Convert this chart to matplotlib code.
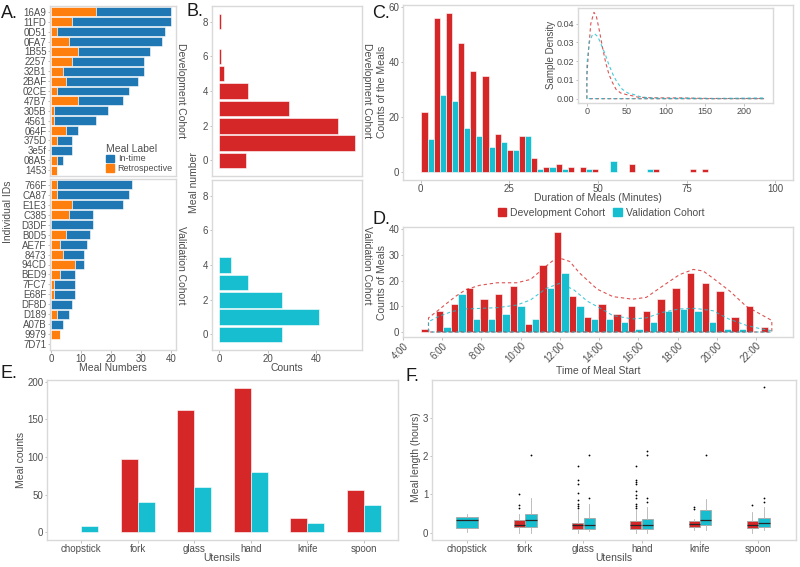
import matplotlib
matplotlib.use('Agg')
import matplotlib.pyplot as plt
from matplotlib.patches import Patch
import numpy as np

plt.rcParams['font.family'] = ['Liberation Sans', 'DejaVu Sans']

RED = '#d62728'
CYAN = '#17becf'
BLUE = '#1f77b4'
ORANGE = '#ff7f0e'
TXT = '#4d4d4d'
FRAME = '#d9d9d9'

# ---- A: meals per individual
dev_ids = ['16A9', '11FD', '0D51', '0FA7', '1B55', '2257', '32B1', '2BAF', '02CE',
           '47B7', '305B', '4561', '064F', '375D', '3e5f', '08A5', '1453']
dev_retro = [15, 7, 2, 6, 9, 7, 4, 5, 2, 9, 1, 1, 5, 2, 0, 2, 2]
dev_intime = [25, 33, 36, 31, 24, 24, 27, 24, 24, 15, 18, 14, 4, 5, 7, 2, 0]
val_ids = ['766F', 'CA87', 'E1E3', 'C385', 'D3DF', 'B0D5', 'AE7F', '8473', '94CD',
           'BED9', '7FC7', 'E68F', 'DF8D', 'D189', 'A07B', '9979', '7D71']
val_retro = [2, 2, 7, 6, 0, 5, 3, 4, 8, 3, 1, 1, 0, 2, 0, 3, 0]
val_intime = [25, 24, 17, 8, 14, 8, 9, 7, 3, 5, 7, 7, 7, 4, 4, 0, 0]

# ---- B: meal number per day
meal_num = [0, 1, 2, 3, 4, 5, 6, 7, 8]
dev_meal_counts = [11, 56, 49, 29, 12, 2, 1, 0, 1]
val_meal_counts = [26, 41, 26, 12, 5, 0, 0, 0, 0]

# ---- C: meal duration histogram (minutes)
dur_bin_start = 0.2
dur_bin_width = 3.44
dev_dur_counts = [22, 56, 58, 47, 37, 35, 14, 8, 13, 5, 2, 3, 2, 2, 1, 0, 0, 3, 0, 1, 0, 0, 1, 1]
val_dur_counts = [12, 28, 26, 16, 13, 9, 11, 8, 13, 1, 2, 1, 0, 1, 0, 4, 0, 0, 1, 0, 0, 0, 0, 0]
# inset density outlines
dev_dens_x = [0, 0, 2, 5, 9, 12, 16, 20, 24, 28, 32, 37, 43, 50, 58, 65, 80, 100, 120, 140, 160, 225, 225, 0]
dev_dens_y = [0, 0.012, 0.025, 0.040, 0.046, 0.044, 0.036, 0.027, 0.019, 0.013, 0.009, 0.005,
              0.003, 0.0022, 0.0015, 0.0008, 0.0005, 0.0004, 0.0004, 0.0002, 0.0001, 0.0001, 0, 0]
val_dens_x = [0, 0, 3, 7, 10, 14, 18, 23, 28, 33, 38, 45, 52, 60, 68, 80, 100, 130, 160, 225, 225, 0]
val_dens_y = [0, 0.018, 0.030, 0.034, 0.0345, 0.033, 0.029, 0.024, 0.018, 0.013, 0.009, 0.005,
              0.003, 0.0022, 0.001, 0.0004, 0.0002, 0.0003, 0.0001, 0.0004, 0, 0]

# ---- D: meal start time histogram (hours)
start_bin0 = 4.935
start_bin_width = 0.752
dev_start_counts = [1, 8, 11, 17, 13, 15, 18, 3, 26, 39, 14, 6, 11, 7, 10, 8, 13, 17, 23, 19, 16, 6, 10, 2]
val_start_counts = [0, 2, 15, 5, 5, 7, 10, 5, 17, 23, 10, 5, 5, 4, 1, 4, 8, 9, 8, 4, 1, 1, 0, 0]
dev_start_dens_h = [5.3, 5.3, 5.8, 6.2, 6.7, 7.2, 7.9, 8.8, 9.8, 10.5, 11.1, 11.6, 12.0, 12.5, 13.0,
                    13.9, 14.7, 15.7, 16.4, 17.25, 18.1, 18.8, 19.3, 19.8, 20.65, 21.5, 22.35, 22.8, 22.8, 5.3]
dev_start_dens_v = [0, 5.5, 8.5, 11, 14, 16.5, 18.2, 19.2, 19.2, 20.5, 24.4, 27.6, 28.8, 27.5, 23,
                    16.7, 13.8, 12.8, 13.5, 18, 22.4, 24.4, 23.8, 21, 16, 10, 6.4, 4.5, 0, 0]
val_start_dens_h = [5.3, 5.3, 5.8, 6.5, 7.2, 7.9, 8.8, 9.8, 10.5, 11.3, 12.0, 12.7, 13.4, 14.0, 14.7,
                    15.7, 16.4, 17.25, 18.1, 18.9, 19.8, 20.6, 21.5, 22.2, 22.8, 22.8, 5.3]
val_start_dens_v = [0, 4, 6, 8, 9, 9.2, 9.5, 10.5, 12.5, 17, 19, 16.5, 12, 9.5, 6.4,
                    5.1, 5.5, 7.7, 9, 9.2, 8.3, 5.1, 2.6, 1.3, 0.5, 0, 0]
hour_ticks = [4, 6, 8, 10, 12, 14, 16, 18, 20, 22]
hour_labels = ['4:00', '6:00', '8:00', '10:00', '12:00', '14:00', '16:00', '18:00', '20:00', '22:00']

# ---- E: utensil counts
utensils = ['chopstick', 'fork', 'glass', 'hand', 'knife', 'spoon']
dev_utensil = [0, 97, 163, 192, 19, 57]
val_utensil = [9, 40, 60, 80, 13, 37]

# ---- F: meal length boxes (hours): whislo, q1, med, q3, whishi
dev_box = [None,
           (0.0, 0.15, 0.21, 0.32, 0.50),
           (0.0, 0.10, 0.20, 0.25, 0.58),
           (0.0, 0.10, 0.21, 0.30, 0.58),
           (0.06, 0.15, 0.23, 0.30, 0.37),
           (0.0, 0.13, 0.21, 0.30, 0.54)]
dev_fliers = [[], [0.64, 0.71, 1.02],
              [0.64, 0.70, 0.76, 0.84, 1.03, 1.28, 1.37, 1.73],
              [0.64, 0.70, 0.76, 0.91, 0.97, 1.10, 1.26, 1.32, 1.38, 1.73],
              [0.61, 0.67], [0.72]]
val_box = [(0.03, 0.12, 0.32, 0.41, 0.50),
           (0.0, 0.15, 0.32, 0.48, 0.91),
           (0.05, 0.10, 0.21, 0.39, 0.76),
           (0.0, 0.10, 0.19, 0.35, 0.67),
           (0.06, 0.19, 0.32, 0.58, 0.89),
           (0.06, 0.15, 0.26, 0.38, 0.67)]
val_fliers = [[], [2.02], [0.90, 2.02], [0.80, 0.91, 2.02, 2.13], [2.02], [0.80, 0.90, 3.80]]

W, H = 800, 567
fig = plt.figure(figsize=(8, 5.67), dpi=100)


def add_ax(l, t, r, b):
    return fig.add_axes([l / W, 1 - b / H, (r - l) / W, (b - t) / H])


def ftxt(x, y, s, **kw):
    kw.setdefault('color', TXT)
    kw.setdefault('fontsize', 7.5)
    kw.setdefault('ha', 'center')
    kw.setdefault('va', 'center')
    fig.text(x / W, 1 - y / H, s, **kw)


def style(ax, size=7):
    for s in ax.spines.values():
        s.set_color(FRAME)
        s.set_linewidth(1.0)
    ax.tick_params(length=1.8, width=0.6, color='#b3b3b3', labelcolor=TXT, labelsize=size, pad=0.8)


bar_kw = dict(edgecolor='white', linewidth=0.4)

# A
a_top = add_ax(50, 6, 176, 176)
a_bot = add_ax(50, 179, 176, 350)
for ax, ids, retro, intime in [(a_top, dev_ids, dev_retro, dev_intime),
                               (a_bot, val_ids, val_retro, val_intime)]:
    y = np.arange(len(ids))
    ax.barh(y, retro, height=0.9, color=ORANGE, **bar_kw)
    ax.barh(y, intime, left=retro, height=0.9, color=BLUE, **bar_kw)
    ax.set_yticks(y, ids)
    ax.set_ylim(len(ids) - 0.4, -0.6)
    ax.set_xlim(-0.35, 41.7)
    ax.set_xticks([0, 10, 20, 30, 40])
    style(ax)
a_top.tick_params(axis='x', labelbottom=False, length=0)
a_top.legend([Patch(color=BLUE), Patch(color=ORANGE)], ['In-time', 'Retrospective'],
             title='Meal Label', loc='upper left', bbox_to_anchor=(101 / W, 1 - 139 / H),
             bbox_transform=fig.transFigure, frameon=False, fontsize=6.5, title_fontsize=7.5,
             handlelength=0.9, handleheight=0.9, labelspacing=0.1, borderpad=0,
             handletextpad=0.45, alignment='left', labelcolor=TXT)
a_top.get_legend().get_title().set_color(TXT)

# B
b_top = add_ax(212, 6, 362, 176)
b_bot = add_ax(212, 180, 362, 350)
for ax, counts, col in [(b_top, dev_meal_counts, RED), (b_bot, val_meal_counts, CYAN)]:
    ax.barh(meal_num, counts, height=0.9, color=col, **bar_kw)
    ax.set_ylim(-0.9, 8.9)
    ax.set_xlim(-2.8, 58.8)
    ax.set_yticks([0, 2, 4, 6, 8])
    ax.set_xticks([0, 20, 40])
    style(ax)
b_top.tick_params(axis='x', labelbottom=False, length=0)

# C
c = add_ax(403, 5, 793, 180)
edges = dur_bin_start + dur_bin_width * np.arange(len(dev_dur_counts))
c.bar(edges, dev_dur_counts, width=dur_bin_width / 2, align='edge', color=RED, **bar_kw)
c.bar(edges + dur_bin_width / 2, val_dur_counts, width=dur_bin_width / 2, align='edge', color=CYAN, **bar_kw)
c.set_xlim(-5, 105)
c.set_ylim(-2.9, 60.9)
c.set_xticks([0, 25, 50, 75, 100])
c.set_yticks([0, 20, 40, 60])
style(c)

ins = add_ax(578, 8, 773, 103)
ins.plot(dev_dens_x, dev_dens_y, color=RED, lw=0.8, ls=(0, (3, 2.5)), alpha=0.8)
ins.plot(val_dens_x, val_dens_y, color=CYAN, lw=0.8, ls=(0, (3, 2.5)), alpha=0.8)
ins.set_xlim(-11.25, 236.25)
ins.set_ylim(-0.0023, 0.0483)
ins.set_xticks([0, 50, 100, 150, 200])
ins.set_yticks([0, 0.01, 0.02, 0.03, 0.04], ['0.00', '0.01', '0.02', '0.03', '0.04'])
style(ins, 6.5)

# D
d = add_ax(403, 227, 793, 337)
sedges = start_bin0 + start_bin_width * np.arange(len(dev_start_counts))
d.bar(sedges, dev_start_counts, width=start_bin_width / 2, align='edge', color=RED, **bar_kw)
d.bar(sedges + start_bin_width / 2, val_start_counts, width=start_bin_width / 2, align='edge', color=CYAN, **bar_kw)
d.plot(dev_start_dens_h, dev_start_dens_v, color=RED, lw=0.8, ls=(0, (3, 2.5)), alpha=0.8)
d.plot(val_start_dens_h, val_start_dens_v, color=CYAN, lw=0.8, ls=(0, (3, 2.5)), alpha=0.8)
d.set_xlim(4.03, 23.88)
d.set_ylim(-1.95, 40.95)
d.set_yticks([0, 10, 20, 30, 40])
d.set_xticks(hour_ticks, hour_labels, rotation=45, ha='right', rotation_mode='anchor')
style(d)

fig.legend([Patch(color=RED), Patch(color=CYAN)], ['Development Cohort', 'Validation Cohort'],
           loc='center', bbox_to_anchor=(601 / W, 1 - 213 / H), ncol=2, frameon=False,
           fontsize=7.5, handlelength=0.8, handleheight=0.8, handletextpad=0.4,
           columnspacing=0.8, labelcolor=TXT)

# E
e = add_ax(47, 380, 398, 540)
ux = np.arange(1, len(utensils) + 1)
e.bar(ux - 0.15, dev_utensil, width=0.3, color=RED, **bar_kw)
e.bar(ux + 0.15, val_utensil, width=0.3, color=CYAN, **bar_kw)
e.set_xlim(0.4, 6.6)
e.set_ylim(-10, 202.3)
e.set_xticks(ux, utensils)
e.set_yticks([0, 50, 100, 150, 200])
style(e)

# F
f = add_ax(432, 380, 796, 540)


def make_stats(box, fl):
    lo, q1, med, q3, hi = box
    return dict(whislo=lo, q1=q1, med=med, q3=q3, whishi=hi, fliers=fl)


common = dict(patch_artist=True, showcaps=False, manage_ticks=False,
              medianprops=dict(color='#262626', lw=0.9),
              whiskerprops=dict(color='#b3b3b3', lw=0.6),
              flierprops=dict(marker='o', markersize=1.3, markerfacecolor='black',
                              markeredgecolor='none'))
dev_stats = [make_stats(b, fl) for b, fl in zip(dev_box, dev_fliers) if b is not None]
dev_pos = [x - 0.1 for x, b in zip(ux, dev_box) if b is not None]
f.bxp(dev_stats, positions=dev_pos, widths=0.19,
      boxprops=dict(facecolor=RED, edgecolor='#a6a6a6', lw=0.6), **common)
val_stats = [make_stats(b, fl) for b, fl in zip(val_box, val_fliers)]
val_pos = [x if dev_box[i] is None else x + 0.1 for i, x in enumerate(ux)]
val_w = [0.37 if dev_box[i] is None else 0.19 for i in range(len(ux))]
f.bxp(val_stats, positions=val_pos, widths=val_w,
      boxprops=dict(facecolor=CYAN, edgecolor='#a6a6a6', lw=0.6), **common)
f.set_xlim(0.4, 6.65)
f.set_ylim(-0.19, 3.98)
f.set_xticks(ux, utensils)
f.set_yticks([0, 1, 2, 3])
style(f)

# panel letters
for x, y, s in [(1, 5, 'A.'), (186, 3, 'B.'), (372, 5, 'C.'), (373, 211, 'D.'),
                (1, 365, 'E.'), (406, 368, 'F.')]:
    ftxt(x, y, s, fontsize=13, color='#1a1a1a', ha='left', va='top')

# axis titles
ftxt(8, 212, 'Individual IDs', rotation=90)
ftxt(113, 368, 'Meal Numbers')
ftxt(194, 183, 'Meal number', rotation=90)
ftxt(287, 368, 'Counts')
ftxt(382, 92, 'Counts of the Meals', rotation=90)
ftxt(598, 198, 'Duration of Meals (Minutes)')
ftxt(551, 55, 'Sample Density', rotation=90, fontsize=7)
ftxt(382, 282, 'Counts of Meals', rotation=90)
ftxt(598, 371, 'Time of Meal Start')
ftxt(21, 460, 'Meal counts', rotation=90)
ftxt(222, 558, 'Utensils')
ftxt(416, 457, 'Meal length (hours)', rotation=90)
ftxt(614, 558, 'Utensils')

# facet strip labels
for x in (181, 367):
    ftxt(x, 91, 'Development Cohort', rotation=270)
    ftxt(x, 265, 'Validation Cohort', rotation=270)

fig.savefig('out.png', dpi=100, facecolor='white')
